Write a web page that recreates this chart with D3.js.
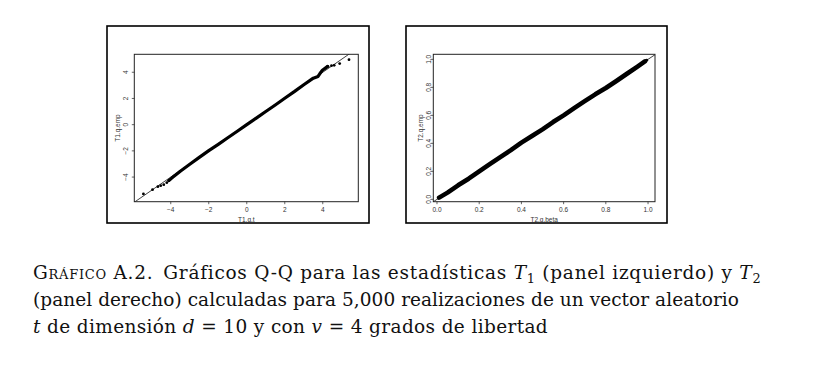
<!DOCTYPE html>
<html><head><meta charset="utf-8">
<script src="https://cdn.jsdelivr.net/npm/d3@7"></script>
<style>
html,body{margin:0;padding:0;background:#fff;}
svg{display:block;}
</style></head>
<body>
<svg id="c" width="814" height="370"></svg>
<script>
// ---------- DATA ----------
// Left panel: T1 empirical quantiles vs t quantiles
const t1BandTheo = [-4.10,-3.95,-3.5,-3.0,-2.5,-2.0,-1.5,-1.0,-0.5,0,0.5,1.0,1.5,2.0,2.5,3.0,3.5,3.75,3.85,3.98,4.26];
const t1BandEmp  = [-4.27,-4.08,-3.55,-3.02,-2.50,-1.98,-1.50,-1.00,-0.50,0,0.50,1.00,1.50,2.02,2.52,3.05,3.55,3.68,3.90,4.15,4.45];
const t1TailTheo = [-5.44,-4.96,-4.68,-4.53,-4.37,-4.21,-4.10,4.26,4.46,4.60,4.89,5.38];
const t1TailEmp  = [-5.29,-4.96,-4.73,-4.66,-4.58,-4.43,-4.27,4.45,4.50,4.53,4.66,4.96];
const t1Ticks = [-4,-2,0,2,4];
const t1Domain = {x:[-5.92,5.87], y:[-5.88,5.37]};

// Right panel: T2 empirical quantiles vs beta quantiles
const t2BandTheo = [0.010,0.05,0.10,0.15,0.20,0.25,0.30,0.35,0.40,0.45,0.50,0.55,0.60,0.65,0.70,0.75,0.80,0.85,0.90,0.95,0.985];
const t2BandEmp  = [0.012,0.048,0.100,0.147,0.200,0.252,0.302,0.352,0.405,0.452,0.500,0.552,0.600,0.652,0.702,0.750,0.795,0.845,0.897,0.948,0.985];
const t2TailTheo = [0.990,0.994];
const t2TailEmp  = [0.989,0.994];
const t2Ticks = [0,0.2,0.4,0.6,0.8,1.0];
const t2Domain = {x:[-0.0175,1.033], y:[-0.017,1.036]};

const panels = [
  {frame:[107,26,369,223], plot:[134.3,54.3,358.3,201.7], dom:t1Domain, ticks:t1Ticks, fmt:d3.format("d"),
   bandX:t1BandTheo, bandY:t1BandEmp, tailX:t1TailTheo, tailY:t1TailEmp, bandW:3.2,
   xlab:"T1.q.t", ylab:"T1.q.emp", ytickX:126},
  {frame:[406,26,667,223], plot:[433.3,54.3,655,201.7], dom:t2Domain, ticks:t2Ticks, fmt:d3.format(".1f"),
   bandX:t2BandTheo, bandY:t2BandEmp, tailX:t2TailTheo, tailY:t2TailEmp, bandW:4.6,
   xlab:"T2.q.beta", ylab:"T2.q.emp", ytickX:429}
];

const svg = d3.select("#c");
const sans = "Liberation Sans, Arial, sans-serif";

panels.forEach((p,i)=>{
  const [fx0,fy0,fx1,fy1] = p.frame;
  svg.append("rect").attr("x",fx0).attr("y",fy0).attr("width",fx1-fx0).attr("height",fy1-fy0)
     .attr("fill","none").attr("stroke","#000").attr("stroke-width",1.6);
  const [px0,py0,px1,py1] = p.plot;
  const x = d3.scaleLinear().domain(p.dom.x).range([px0,px1]);
  const y = d3.scaleLinear().domain(p.dom.y).range([py1,py0]);
  const cid = "clip"+i;
  svg.append("clipPath").attr("id",cid).append("rect")
     .attr("x",px0).attr("y",py0).attr("width",px1-px0).attr("height",py1-py0);
  const g = svg.append("g").attr("clip-path",`url(#${cid})`);
  // reference line y = x
  const lo = Math.min(p.dom.x[0],p.dom.y[0]), hi = Math.max(p.dom.x[1],p.dom.y[1]);
  g.append("line").attr("x1",x(lo)).attr("y1",y(lo)).attr("x2",x(hi)).attr("y2",y(hi))
   .attr("stroke","#111").attr("stroke-width",0.8);
  // dense band of points
  const bandPts = p.bandX.map((v,k)=>[v,p.bandY[k]]);
  g.append("path").datum(bandPts)
   .attr("d",d3.line().x(d=>x(d[0])).y(d=>y(d[1])))
   .attr("fill","none").attr("stroke","#000").attr("stroke-width",p.bandW)
   .attr("stroke-linecap","round").attr("stroke-linejoin","round");
  // isolated tail points
  g.selectAll("circle.t").data(p.tailX.map((v,k)=>[v,p.tailY[k]])).join("circle")
   .attr("cx",d=>x(d[0])).attr("cy",d=>y(d[1])).attr("r",1.4).attr("fill","#000");
  // plot box
  svg.append("rect").attr("x",px0).attr("y",py0).attr("width",px1-px0).attr("height",py1-py0)
     .attr("fill","none").attr("stroke","#222").attr("stroke-width",1);
  const fs = 6.5;
  p.ticks.forEach(t=>{
    svg.append("line").attr("x1",x(t)).attr("x2",x(t)).attr("y1",py1).attr("y2",py1+2.5)
       .attr("stroke","#222").attr("stroke-width",0.7);
    svg.append("text").attr("x",x(t)).attr("y",py1+10.5).attr("text-anchor","middle")
       .attr("font-family",sans).attr("font-size",fs).attr("fill","#333")
       .text(p.fmt(t));
    svg.append("line").attr("y1",y(t)).attr("y2",y(t)).attr("x1",px0).attr("x2",px0-2.5)
       .attr("stroke","#222").attr("stroke-width",0.7);
    svg.append("text").attr("transform",`translate(${p.ytickX},${y(t)}) rotate(-90)`)
       .attr("text-anchor","middle").attr("dy","0.35em")
       .attr("font-family",sans).attr("font-size",fs).attr("fill","#333")
       .text(p.fmt(t));
  });
  svg.append("text").attr("x",(px0+px1)/2).attr("y",py1+20.5).attr("text-anchor","middle")
     .attr("font-family",sans).attr("font-size",6.5).attr("fill","#333")
     .text(p.xlab);
  svg.append("text").attr("transform",`translate(${p.ytickX-8},${(py0+py1)/2}) rotate(-90)`)
     .attr("text-anchor","middle").attr("dy","0.35em")
     .attr("font-family",sans).attr("font-size",6.5).attr("fill","#333")
     .text(p.ylab);
});

// ---------- caption ----------
const capFont = "'DejaVu Serif', 'Liberation Serif', serif";
const capSize = 18.5;
const lines = [
  {y:279, width:728, parts:[
    {t:"Gráfico", sc:true},{t:" A.2.\u2002Gráficos Q-Q para las estadísticas "},
    {t:"T", it:true},{t:"1", sub:true},{t:" (panel izquierdo) y "},{t:"T", it:true},{t:"2", sub:true}]},
  {y:306, width:706, parts:[{t:"(panel derecho) calculadas para 5,000 realizaciones de un vector aleatorio"}]},
  {y:333, width:515, parts:[
    {t:"t", it:true},{t:" de dimensión "},{t:"d", it:true},{t:" = 10 y con "},{t:"v", it:true},
    {t:" = 4 grados de libertad"}]}
];
lines.forEach(L=>{
  const txt = svg.append("text").attr("x",33).attr("y",L.y)
     .attr("font-family",capFont).attr("font-size",capSize).attr("fill","#111");
  let prevSub=false;
  L.parts.forEach(pt=>{
    const ts = txt.append("tspan").text(pt.t);
    if (pt.it) ts.attr("font-style","italic");
    if (pt.sc) ts.attr("font-variant","small-caps");
    if (pt.sub) ts.attr("font-size",capSize*0.7).attr("dy",4);
    else if (prevSub) ts.attr("dy",-4);
    prevSub = !!pt.sub;
  });
  const w = txt.node().getComputedTextLength();
  const n = L.parts.map(p=>p.t).join("").length;
  txt.attr("letter-spacing", ((L.width - w)/n).toFixed(3));
});
</script>
</body></html>
